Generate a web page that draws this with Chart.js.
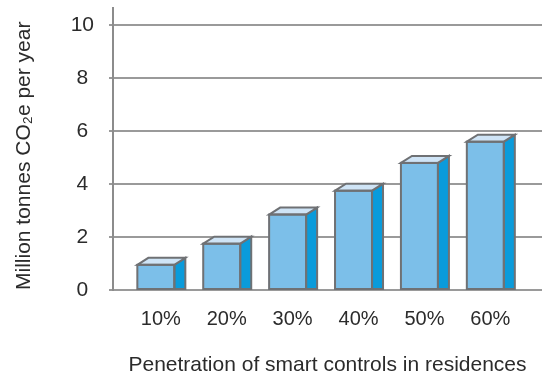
<!DOCTYPE html>
<html>
<head>
<meta charset="utf-8">
<script src="https://cdn.jsdelivr.net/npm/chart.js@4/dist/chart.umd.min.js"></script>
<style>
  html, body { margin: 0; padding: 0; background: #ffffff; }
  #wrap { width: 542px; height: 378px; position: relative; }
</style>
</head>
<body>
<div id="wrap"><canvas id="c"></canvas></div>
<script>
// Penetration levels and the resulting annual CO2e savings
const categories = ['10%', '20%', '30%', '40%', '50%', '60%'];
const savings = [0.95, 1.75, 2.85, 3.75, 4.8, 5.6];
const yTicks = [0, 2, 4, 6, 8, 10];

const FONT = '"Liberation Sans", Arial, sans-serif';
const TEXT = '#2b2b2b';
const GRID = '#9a9a9a';
const OUTLINE = '#6f7174';

// Paints the top and right faces so each bar reads as a box
const boxFaces = {
  id: 'boxFaces',
  afterDatasetsDraw(chart) {
    const ctx = chart.ctx;
    const dx = 11, dy = 7;
    chart.getDatasetMeta(0).data.forEach(bar => {
      const { x, y, base, width } = bar.getProps(['x', 'y', 'base', 'width'], true);
      const l = x - width / 2, r = x + width / 2;
      ctx.save();
      ctx.lineWidth = 2;
      ctx.lineJoin = 'miter';
      ctx.strokeStyle = OUTLINE;
      // side face
      ctx.beginPath();
      ctx.moveTo(r, y);
      ctx.lineTo(r + dx, y - dy);
      ctx.lineTo(r + dx, base);
      ctx.lineTo(r, base);
      ctx.closePath();
      ctx.fillStyle = '#0a9bdb';
      ctx.fill();
      ctx.stroke();
      // top face
      ctx.beginPath();
      ctx.moveTo(l, y);
      ctx.lineTo(l + dx, y - dy);
      ctx.lineTo(r + dx, y - dy);
      ctx.lineTo(r, y);
      ctx.closePath();
      ctx.fillStyle = '#cfe4f6';
      ctx.fill();
      ctx.stroke();
      // front outline
      ctx.strokeRect(l, y, width, base - y);
      ctx.restore();
    });
  }
};

new Chart(document.getElementById('c'), {
  type: 'bar',
  data: {
    datasets: [{
      data: savings.map((v, i) => ({ x: i, y: v })),
      backgroundColor: '#7cbfe9',
      borderWidth: 0,
      barThickness: 37
    }]
  },
  options: {
    responsive: true,
    maintainAspectRatio: false,
    animation: false,
    events: [],
    layout: { padding: { top: 8, right: 0, left: 0, bottom: 0 } },
    plugins: { legend: { display: false }, tooltip: { enabled: false } },
    scales: {
      x: {
        type: 'linear',
        offset: false,
        min: -0.65,
        max: 5.86,
        afterBuildTicks: s => { s.ticks = categories.map((_, i) => ({ value: i })); },
        afterFit: s => { s.height = 88; s.paddingLeft = 0; s.paddingRight = 0; },
        grid: { display: false, drawTicks: false },
        border: { display: false },
        ticks: {
          callback: (v) => categories[v],
          color: TEXT,
          font: { family: FONT, size: 20 },
          padding: 17,
          labelOffset: 5,
          maxRotation: 0,
          autoSkip: false
        },
        title: {
          display: true,
          text: 'Penetration of smart controls in residences',
          color: TEXT,
          font: { family: FONT, size: 21 },
          padding: { top: -2.5, bottom: 0 }
        }
      },
      y: {
        min: 0,
        max: 10.65,
        afterBuildTicks: s => { s.ticks = yTicks.map(v => ({ value: v })); },
        afterFit: s => { s.width = 113; s.paddingTop = 0; s.paddingBottom = 0; },
        grid: { color: GRID, lineWidth: 2, drawTicks: true, tickLength: 4, tickColor: GRID },
        border: { display: true, color: '#8c8c8c', width: 2 },
        ticks: {
          color: TEXT,
          font: { family: FONT, size: 21 },
          crossAlign: 'center',
          padding: 15
        },
        title: {
          display: true,
          text: 'Million tonnes CO₂e per year',
          align: 'start',
          color: TEXT,
          font: { family: FONT, size: 21 },
          padding: { top: 12, bottom: 0 }
        }
      }
    }
  },
  plugins: [boxFaces]
});
</script>
</body>
</html>
